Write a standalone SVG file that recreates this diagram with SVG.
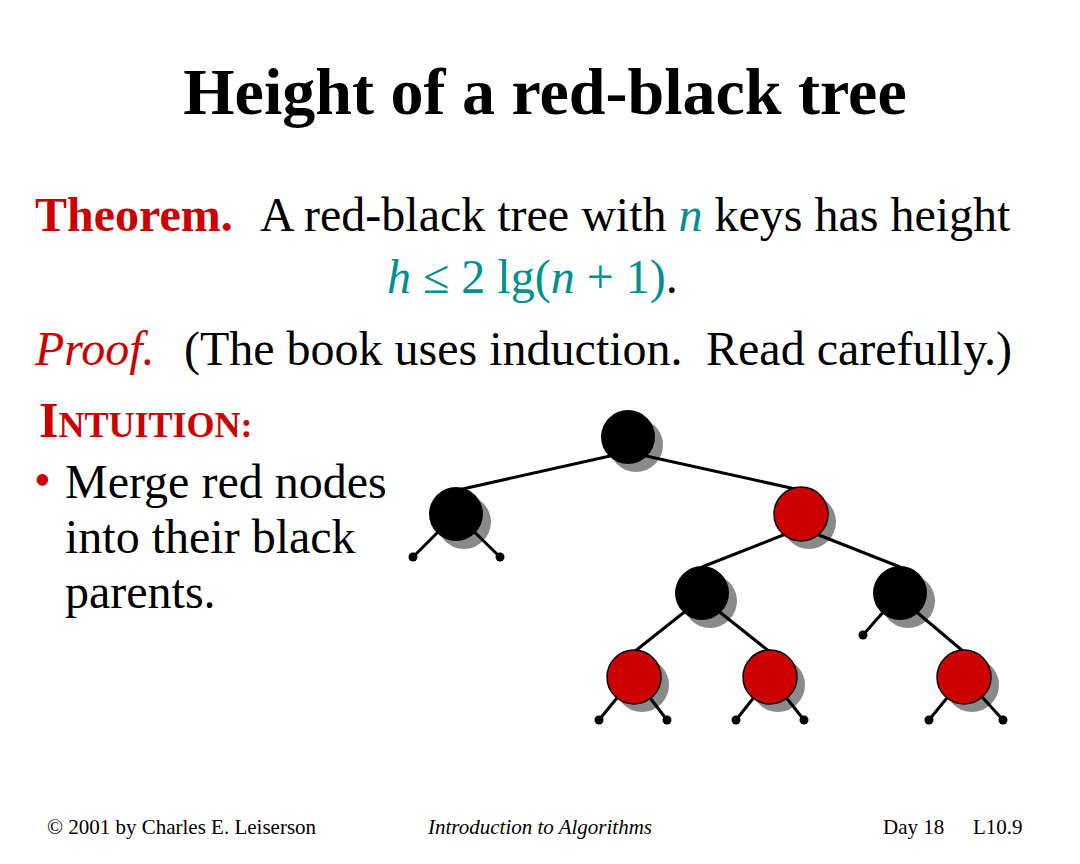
<svg xmlns="http://www.w3.org/2000/svg" width="1080" height="864" viewBox="0 0 1080 864">
<style>
text{font-family:"Liberation Serif","Times New Roman",serif;fill:#000}
.title{font-size:66px;font-weight:bold}
.body{font-size:48px}
.red{fill:#cc0000}
.teal{fill:#009090}
.it{font-style:italic}
.foot{font-size:21px}
.shadow{fill:#8a8a8a}
.edge{stroke:#000;stroke-width:3;fill:none}
.dot{fill:#000}
.bn{fill:#000}
.rn{fill:#cc0000;stroke:#000;stroke-width:1.5}
</style>
<rect width="1080" height="864" fill="#fff"/>
<text class="title" x="545" y="114" text-anchor="middle">Height of a red-black tree</text>
<text class="body" y="231"><tspan x="35" class="red" font-weight="bold">Theorem.</tspan><tspan x="260">A red-black tree with </tspan><tspan class="teal it">n</tspan><tspan> keys has height</tspan></text>
<text class="body" y="293"><tspan x="387" class="teal it">h</tspan><tspan class="teal"> ≤ 2 lg(</tspan><tspan class="teal it">n</tspan><tspan class="teal"> + 1)</tspan><tspan>.</tspan></text>
<text class="body" y="365"><tspan x="35" class="red it">Proof.</tspan><tspan x="184">(The book uses induction.</tspan><tspan x="706">Read carefully.)</tspan></text>
<text y="437" class="red" font-weight="bold"><tspan x="39" font-size="50">I</tspan><tspan font-size="36">NTUITION:</tspan></text>
<text class="body red" x="34" y="496" font-size="40">•</text>
<text class="body" x="65" y="498">Merge red nodes</text>
<text class="body" x="65" y="553">into their black</text>
<text class="body" x="65" y="608">parents.</text>
<g id="shadows">
<circle class="shadow" cx="636" cy="445" r="27"/>
<circle class="shadow" cx="464" cy="522" r="27"/>
<circle class="shadow" cx="809" cy="522" r="27"/>
<circle class="shadow" cx="710" cy="601" r="27"/>
<circle class="shadow" cx="908" cy="601" r="27"/>
<circle class="shadow" cx="642" cy="685" r="27"/>
<circle class="shadow" cx="778" cy="685" r="27"/>
<circle class="shadow" cx="972" cy="685" r="27"/>
</g>
<g id="connectors">
<line class="edge" x1="628" y1="452" x2="458" y2="490"/>
<line class="edge" x1="628" y1="452" x2="800" y2="490"/>
<line class="edge" x1="801" y1="528" x2="702" y2="567"/>
<line class="edge" x1="801" y1="528" x2="900" y2="567"/>
<line class="edge" x1="702" y1="598" x2="634" y2="652"/>
<line class="edge" x1="702" y1="598" x2="770" y2="652"/>
<line class="edge" x1="900" y1="598" x2="964" y2="652"/>
<line class="edge" x1="900" y1="593" x2="863" y2="635"/>
<line class="edge" x1="456" y1="514" x2="413" y2="557"/>
<line class="edge" x1="456" y1="514" x2="500" y2="557"/>
<line class="edge" x1="634" y1="677" x2="599" y2="720"/>
<line class="edge" x1="634" y1="677" x2="667" y2="720"/>
<line class="edge" x1="770" y1="677" x2="736" y2="720"/>
<line class="edge" x1="770" y1="677" x2="804" y2="720"/>
<line class="edge" x1="964" y1="677" x2="929" y2="720"/>
<line class="edge" x1="964" y1="677" x2="1003" y2="720"/>
<circle class="dot" cx="413" cy="557" r="4.5"/>
<circle class="dot" cx="500" cy="557" r="4.5"/>
<circle class="dot" cx="863" cy="635" r="4.5"/>
<circle class="dot" cx="599" cy="720" r="4.5"/>
<circle class="dot" cx="667" cy="720" r="4.5"/>
<circle class="dot" cx="736" cy="720" r="4.5"/>
<circle class="dot" cx="804" cy="720" r="4.5"/>
<circle class="dot" cx="929" cy="720" r="4.5"/>
<circle class="dot" cx="1003" cy="720" r="4.5"/>
</g>
<g id="node-root"><circle class="bn" cx="628" cy="437" r="27"/></g>
<g id="node-l1a"><circle class="bn" cx="456" cy="514" r="27"/></g>
<g id="node-l1b"><circle class="rn" cx="801" cy="514" r="27"/></g>
<g id="node-l2a"><circle class="bn" cx="702" cy="593" r="27"/></g>
<g id="node-l2b"><circle class="bn" cx="900" cy="593" r="27"/></g>
<g id="node-l3a"><circle class="rn" cx="634" cy="677" r="27"/></g>
<g id="node-l3b"><circle class="rn" cx="770" cy="677" r="27"/></g>
<g id="node-l3c"><circle class="rn" cx="964" cy="677" r="27"/></g>
<text class="foot" x="47" y="834">© 2001 by Charles E. Leiserson</text>
<text class="foot it" x="428" y="834">Introduction to Algorithms</text>
<text class="foot" x="883" y="834">Day 18</text>
<text class="foot" x="973" y="834">L10.9</text>
</svg>
